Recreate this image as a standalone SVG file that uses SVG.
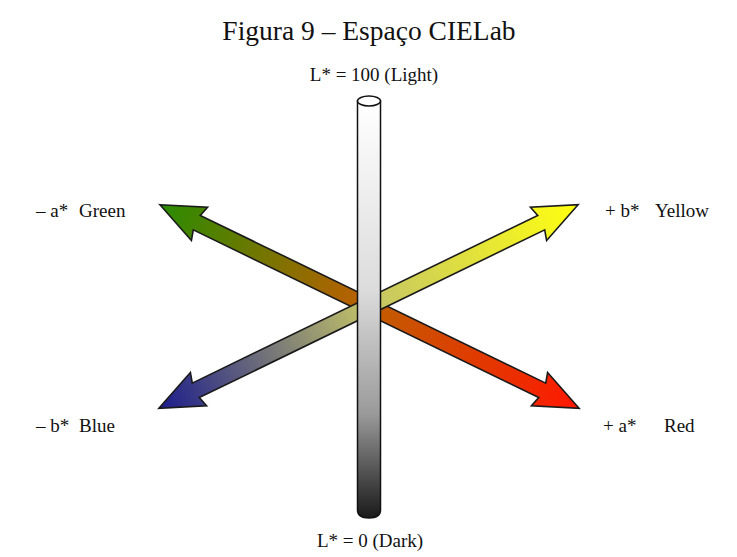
<svg xmlns="http://www.w3.org/2000/svg" width="737" height="557" viewBox="0 0 737 557">
<style>
text{font-family:"Liberation Serif","Times New Roman",serif;fill:#111}
.t{font-size:27.5px}
.l{font-size:19px}
.arrow{stroke:#1a1a1a;stroke-width:1.6;stroke-linejoin:miter}
</style>
<defs>
<linearGradient id="gr" gradientUnits="userSpaceOnUse" x1="-233" y1="0" x2="233" y2="0">
<stop offset="0" stop-color="#2a8c00"/>
<stop offset="0.5" stop-color="#c05e00"/>
<stop offset="1" stop-color="#ff1800"/>
</linearGradient>
<linearGradient id="by" gradientUnits="userSpaceOnUse" x1="-233" y1="0" x2="233" y2="0">
<stop offset="0" stop-color="#1c1c8c"/>
<stop offset="0.5" stop-color="#c4c468"/>
<stop offset="1" stop-color="#ffff10"/>
</linearGradient>
<linearGradient id="cyl" x1="0" y1="0" x2="0" y2="1">
<stop offset="0" stop-color="#ffffff"/>
<stop offset="0.45" stop-color="#dcdcdc"/>
<stop offset="0.75" stop-color="#9a9a9a"/>
<stop offset="1" stop-color="#1a1a1a"/>
</linearGradient>
<path id="dbl" d="M-233,0 L-189,-18.5 L-192,-8 L192,-8 L189,-18.5 L233,0 L189,18.5 L192,8 L-192,8 L-189,18.5 Z"/>
</defs>
<text class="t" x="369" y="40" text-anchor="middle">Figura 9 – Espaço CIELab</text>
<g id="connectors">
<g id="axis-a" transform="translate(369.5,306.5) rotate(25.9)"><use href="#dbl" class="arrow" fill="url(#gr)"/></g>
<g id="axis-b" transform="translate(368.5,306.5) rotate(-25.9)"><use href="#dbl" class="arrow" fill="url(#by)"/></g>
</g>
<g id="axis-L">
<path d="M357.5,101 V510 Q357.5,518 369,518 Q380.5,518 380.5,510 V101 Z" fill="url(#cyl)" stroke="#111" stroke-width="1.5"/>
<ellipse cx="369" cy="101" rx="11.5" ry="5" fill="#fff" stroke="#111" stroke-width="1.5"/>
</g>
<g id="label-light"><text class="l" x="374" y="81" text-anchor="middle">L* = 100 (Light)</text></g>
<g id="label-dark"><text class="l" x="370" y="547" text-anchor="middle">L* = 0 (Dark)</text></g>
<g id="label-green"><text class="l" x="36" y="217">– a*</text><text class="l" x="79" y="217">Green</text></g>
<g id="label-yellow"><text class="l" x="605" y="217">+ b*</text><text class="l" x="655" y="217">Yellow</text></g>
<g id="label-blue"><text class="l" x="36" y="432">– b*</text><text class="l" x="79" y="432">Blue</text></g>
<g id="label-red"><text class="l" x="603" y="432">+ a*</text><text class="l" x="664" y="432">Red</text></g>
</svg>
